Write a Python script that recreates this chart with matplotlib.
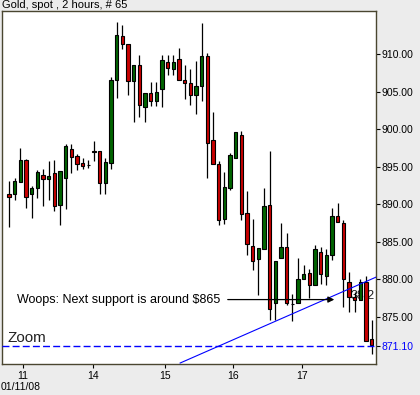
import matplotlib
matplotlib.use("Agg")
import matplotlib.pyplot as plt
import numpy as np

plt.rcParams['font.family'] = ['Liberation Sans', 'DejaVu Sans']
plt.rcParams['lines.scale_dashes'] = False

# OHLC data (2-hour bars)
opens = [891.3, 891.3, 892.9, 895.9, 891.3, 892.2, 893.85, 893.4, 894.1, 889.85,
         893.45, 897.4, 896.4, 895.45, 895.2, 897.1, 897.1, 892.8, 895.45, 906.5,
         912.4, 911.3, 906.4, 908.6, 902.9, 904.8, 903.8, 905.3, 909.0, 908.0,
         909.3, 906.5, 906.1, 904.5, 905.7, 909.8, 898.5, 895.3, 888.0, 892.1,
         896.1, 899.2, 888.8, 884.4, 882.7, 884.0, 889.9, 876.8, 882.8, 884.3,
         876.7, 876.8, 880.1, 880.9, 879.2, 883.7, 880.4, 883.2, 888.4, 887.5,
         879.6, 877.6, 877.2, 879.7, 872.05]
highs = [893.1, 893.5, 897.5, 896.0, 892.4, 894.6, 894.7, 895.8, 895.9, 894.4,
         898.0, 898.0, 896.7, 896.1, 895.9, 898.4, 897.1, 896.2, 906.9, 914.3,
         913.9, 911.4, 908.6, 909.9, 904.8, 906.3, 906.3, 909.9, 909.9, 909.9,
         910.8, 908.6, 908.0, 909.1, 914.1, 910.1, 902.3, 895.75, 894.3, 896.8,
         899.6, 899.75, 891.7, 888.0, 884.2, 892.1, 897.1, 882.4, 887.5, 886.1,
         878.0, 882.9, 881.9, 881.4, 884.6, 884.3, 884.0, 889.45, 890.1, 887.9,
         881.0, 878.35, 880.1, 880.5, 874.6]
lows = [886.9, 890.6, 892.9, 889.5, 888.2, 890.8, 889.7, 890.6, 889.1, 887.2,
        889.4, 894.2, 894.6, 894.7, 894.8, 895.8, 891.3, 891.4, 894.7, 904.1,
        910.7, 904.6, 901.0, 901.65, 900.9, 903.1, 903.1, 903.0, 907.2, 907.2,
        906.5, 904.0, 903.25, 902.0, 903.8, 893.5, 895.3, 887.2, 887.3, 891.85,
        896.1, 887.9, 883.2, 881.2, 877.9, 884.0, 874.6, 874.6, 882.8, 876.6,
        874.45, 876.8, 880.1, 877.5, 879.2, 879.4, 879.2, 882.6, 887.6, 876.35,
        875.7, 875.6, 877.2, 871.8, 870.0]
closes = [890.9, 893.1, 895.9, 890.9, 892.2, 894.3, 893.3, 893.7, 889.7, 894.4,
          897.75, 896.3, 895.4, 895.05, 895.2, 897.0, 892.8, 895.6, 906.5, 912.6,
          911.4, 906.4, 908.6, 903.2, 904.8, 903.8, 905.0, 909.2, 908.2, 908.9,
          906.5, 906.1, 904.5, 905.7, 909.7, 898.1, 895.3, 887.9, 892.3, 896.55,
          899.6, 888.65, 884.7, 882.5, 884.2, 889.8, 876.1, 882.4, 884.3, 876.8,
          876.7, 880.1, 880.7, 879.2, 884.1, 880.7, 883.3, 888.4, 887.6, 880.1,
          877.7, 877.2, 879.6, 871.8, 871.25]

day_labels = ["11", "14", "15", "16", "17"]
day_ticks = [2.5, 14.9, 27.6, 39.6, 51.7]
price_ticks = [875, 880, 885, 890, 895, 900, 905, 910]
zoom_level = 871.10
trend_x = [30.2, 64.8]
trend_y = [868.85, 880.3]
support_text = "Woops: Next support is around $865"
support_level = 877.3
fib_label = "38.2"
fib_level = 877.8

fig = plt.figure(figsize=(4.2, 3.95), dpi=100)
fig.patch.set_facecolor('#ececec')
ax = fig.add_axes([2.3/420, 1-364/395, (376-2.3)/420, (364-11)/395])
ax.set_facecolor('white')

idx = np.arange(len(opens))
o = np.array(opens); c = np.array(closes); h = np.array(highs); l = np.array(lows)
colors = np.where(c > o, '#006400', np.where(c < o, '#c80000', 'black'))

ax.vlines(idx, l, h, color='black', lw=0.9, zorder=2)
bottoms = np.minimum(o, c)
heights = np.abs(c - o)
ax.bar(idx, heights, bottom=bottoms, width=0.62, color=colors,
       edgecolor='black', linewidth=0.8, zorder=3)

# label partly hidden behind candles
ax.text(60.35, fib_level, fib_label, fontsize=9, va='center', ha='left',
        color='#222222', zorder=1)

# zoom level dashed line
ax.axhline(zoom_level, color='#0000ff', lw=1.0, dashes=(5, 2.3), zorder=4)
ax.text(-0.2, zoom_level + 0.1, "Zoom", fontsize=11, color='#222222',
        va='bottom', ha='left', zorder=5)

# trend line
ax.plot(trend_x, trend_y, color='#0000ff', lw=0.8, zorder=4)

# annotation
ax.text(1.5, support_level, support_text, fontsize=9, va='center', ha='left',
        color='black', zorder=5)
ax.annotate('', xy=(57.4, support_level), xytext=(38.6, support_level),
            arrowprops=dict(arrowstyle='-|>', color='black', lw=0.9,
                            mutation_scale=9, shrinkA=0, shrinkB=0), zorder=5)

ax.set_xlim(-1.18, 64.76)
ax.set_ylim(868.72, 915.73)

ax.yaxis.tick_right()
ax.set_yticks(price_ticks + [zoom_level])
ax.set_yticklabels([f"{p:.2f}" for p in price_ticks] + [f"{zoom_level:.2f}"])
ax.tick_params(axis='y', length=3, width=0.8, pad=1, labelsize=7.5, colors='black')
ax.get_yticklabels()[-1].set_color('#0000ff')
ax.set_xticks(day_ticks)
ax.set_xticklabels(day_labels)
ax.tick_params(axis='x', length=3, width=0.8, pad=2, labelsize=7.5)

for s in ax.spines.values():
    s.set_color('#4a4630')
    s.set_linewidth(1.0)

fig.text(2/420, 1-0.5/395, "Gold, spot , 2 hours, # 65", fontsize=8, va='top', ha='left')
fig.text(1/420, 1-387.5/395, "01/11/08", fontsize=7.5, va='center', ha='left')

fig.savefig("out.png", dpi=100, facecolor=fig.get_facecolor())
